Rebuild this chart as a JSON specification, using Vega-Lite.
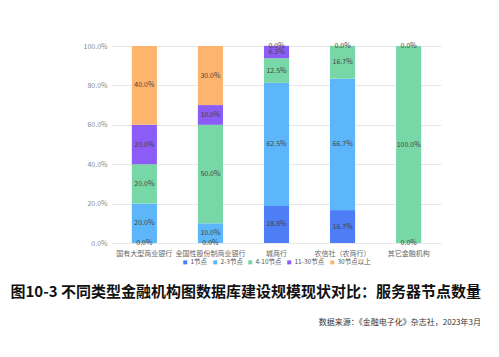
{
  "$schema": "https://vega.github.io/schema/vega-lite/v6.json",
  "width": 329,
  "height": 197,
  "autosize": {"type": "none"},
  "padding": {"left": 112, "top": 46, "right": 58, "bottom": 114},
  "background": "white",
  "config": {
    "font": "Noto Sans CJK SC",
    "view": {"stroke": null},
    "legend": {"layout": {"bottom": {"anchor": "middle"}}},
    "axisY": {
      "labelOverlap": false,
      "labelFontSize": 7,
      "labelColor": "#888888",
      "labelPadding": 5,
      "ticks": false,
      "domain": false,
      "grid": true,
      "gridColor": "#e8e8e8",
      "gridWidth": 1
    }
  },
  "title": {
    "text": "图10-3  不同类型金融机构图数据库建设规模现状对比：服务器节点数量",
    "subtitle": "数据来源：《金融电子化》杂志社，2023年3月",
    "orient": "bottom",
    "anchor": "end",
    "frame": "group",
    "dx": 40,
    "offset": 19,
    "fontSize": 15,
    "fontWeight": "bold",
    "color": "#111111",
    "font": "Noto Sans CJK SC",
    "subtitleFont": "Noto Sans CJK SC",
    "subtitleFontSize": 8,
    "subtitleColor": "#333333",
    "subtitlePadding": 19
  },
  "data": {
    "values": [
      {"bank": "国有大型商业银行", "node": "1节点", "v": 0},
      {"bank": "国有大型商业银行", "node": "2-3节点", "v": 0.2},
      {"bank": "国有大型商业银行", "node": "4-10节点", "v": 0.2},
      {"bank": "国有大型商业银行", "node": "11-30节点", "v": 0.2},
      {"bank": "国有大型商业银行", "node": "30节点以上", "v": 0.4},
      {"bank": "全国性股份制商业银行", "node": "1节点", "v": 0},
      {"bank": "全国性股份制商业银行", "node": "2-3节点", "v": 0.1},
      {"bank": "全国性股份制商业银行", "node": "4-10节点", "v": 0.5},
      {"bank": "全国性股份制商业银行", "node": "11-30节点", "v": 0.1},
      {"bank": "全国性股份制商业银行", "node": "30节点以上", "v": 0.3},
      {"bank": "城商行", "node": "1节点", "v": 0.188},
      {"bank": "城商行", "node": "2-3节点", "v": 0.625},
      {"bank": "城商行", "node": "4-10节点", "v": 0.125},
      {"bank": "城商行", "node": "11-30节点", "v": 0.063},
      {"bank": "城商行", "node": "30节点以上", "v": 0},
      {"bank": "农信社（农商行）", "node": "1节点", "v": 0.167},
      {"bank": "农信社（农商行）", "node": "2-3节点", "v": 0.667},
      {"bank": "农信社（农商行）", "node": "4-10节点", "v": 0.167},
      {"bank": "农信社（农商行）", "node": "11-30节点", "v": 0},
      {"bank": "农信社（农商行）", "node": "30节点以上", "v": 0},
      {"bank": "其它金融机构", "node": "1节点", "v": 0},
      {"bank": "其它金融机构", "node": "2-3节点", "v": 0},
      {"bank": "其它金融机构", "node": "4-10节点", "v": 1.0},
      {"bank": "其它金融机构", "node": "11-30节点", "v": 0},
      {"bank": "其它金融机构", "node": "30节点以上", "v": 0}
    ]
  },
  "transform": [
    {"calculate": "indexof(['1节点','2-3节点','4-10节点','11-30节点','30节点以上'], datum.node)", "as": "k"},
    {"stack": "v", "groupby": ["bank"], "sort": [{"field": "k", "order": "ascending"}], "as": ["v0", "v1"]},
    {"calculate": "(datum.v0 + datum.v1) / 2", "as": "vm"}
  ],
  "encoding": {
    "x": {
      "field": "bank",
      "type": "nominal",
      "sort": ["国有大型商业银行", "全国性股份制商业银行", "城商行", "农信社（农商行）", "其它金融机构"],
      "scale": {"paddingInner": 0.62, "paddingOuter": 0.3},
      "axis": {
        "title": null,
        "labelAngle": 0,
        "labelFontSize": 7,
        "labelColor": "#666666",
        "labelPadding": 6,
        "ticks": false,
        "domain": false
      }
    }
  },
  "layer": [
    {
      "mark": {"type": "bar"},
      "encoding": {
        "y": {
          "field": "v0",
          "type": "quantitative",
          "scale": {"domain": [0, 1], "nice": false},
          "axis": {
            "title": null,
            "format": ".1%",
            "values": [0, 0.2, 0.4, 0.6, 0.8, 1.0]
          }
        },
        "y2": {"field": "v1"},
        "color": {
          "field": "node",
          "type": "nominal",
          "scale": {
            "domain": ["1节点", "2-3节点", "4-10节点", "11-30节点", "30节点以上"],
            "range": ["#4d7ef6", "#5cb6f9", "#78d7a7", "#8b5cf6", "#fdb56d"]
          },
          "legend": {
            "title": null,
            "orient": "bottom",
            "direction": "horizontal",
            "symbolType": "square",
            "symbolSize": 16,
            "symbolStrokeWidth": 0,
            "labelFontSize": 6.5,
            "labelColor": "#555555",
            "columnPadding": 4,
            "symbolOffset": 0,
            "labelOffset": 2,
            "offset": 3,
            "padding": 0
          }
        }
      }
    },
    {
      "transform": [{"filter": "datum.v > 0 || datum.node == '1节点' || datum.node == '30节点以上'"}],
      "mark": {"type": "text", "fontSize": 7, "color": "#444444"},
      "encoding": {
        "y": {
          "field": "vm",
          "type": "quantitative",
          "axis": {
            "title": null,
            "format": ".1%",
            "values": [0, 0.2, 0.4, 0.6, 0.8, 1.0]
          }
        },
        "text": {"field": "v", "type": "quantitative", "format": ".1%"}
      }
    }
  ]
}
